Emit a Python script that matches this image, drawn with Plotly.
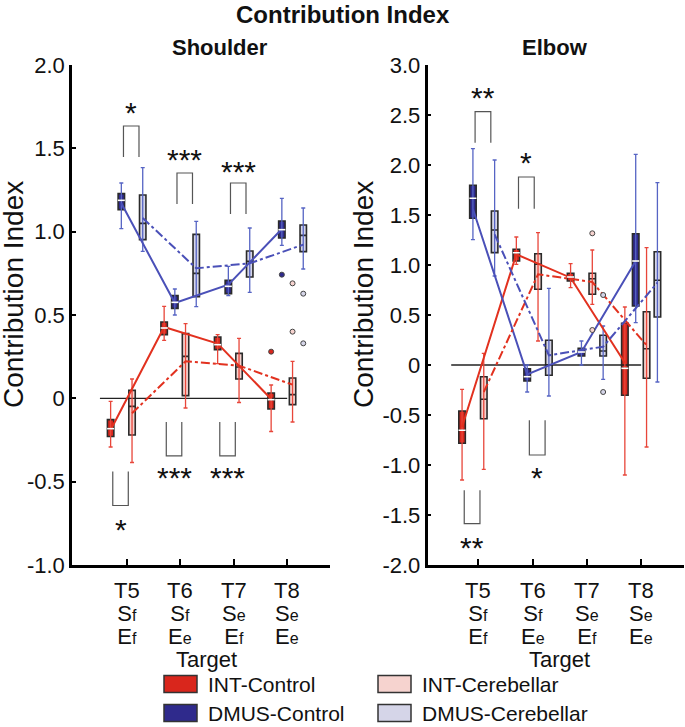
import plotly.graph_objects as go

W, H = 685, 727
FONT = "Liberation Sans, Arial, sans-serif"

# ---- data ----
targets = ['T5', 'T6', 'T7', 'T8']
s_letters = ['f', 'f', 'e', 'e']   # shoulder flexion / extension
e_letters = ['f', 'e', 'f', 'e']   # elbow flexion / extension
groups = ['INT-Control', 'DMUS-Control', 'INT-Cerebellar', 'DMUS-Cerebellar']

# shoulder
sh_int_ctl = dict(lo=[-0.292, 0.348, 0.208, -0.199], q1=[-0.229, 0.382, 0.292, -0.064],
                  med=[-0.182, 0.422, 0.322, -0.008], q3=[-0.128, 0.458, 0.368, 0.032],
                  hi=[-0.018, 0.552, 0.382, 0.080], mean=[-0.19, 0.428, 0.328, -0.004])
sh_dmus_ctl = dict(lo=[1.018, 0.500, 0.616, 0.918], q1=[1.132, 0.540, 0.628, 0.962],
                   med=[1.188, 0.576, 0.672, 1.012], q3=[1.228, 0.616, 0.708, 1.064],
                   hi=[1.292, 0.656, 0.792, 1.200], mean=[1.17, 0.572, 0.682, 1.016])
sh_int_cer = dict(lo=[-0.385, -0.058, -0.025, -0.142], q1=[-0.220, 0.016, 0.116, -0.038],
                  med=[-0.048, 0.252, 0.188, 0.022], q3=[0.048, 0.388, 0.270, 0.122],
                  hi=[0.116, 0.448, 0.360, 0.222], mean=[-0.09, 0.222, 0.196, 0.082])
sh_dmus_cer = dict(lo=[0.882, 0.550, 0.636, 0.776], q1=[0.952, 0.610, 0.728, 0.880],
                   med=[1.050, 0.750, 0.822, 0.978], q3=[1.220, 0.984, 0.884, 1.040],
                   hi=[1.384, 1.062, 1.022, 1.142], mean=[1.082, 0.780, 0.810, 0.922])
# outliers: (target index, value)
sh_outliers = {'INT-Control': [(3, 0.28)], 'DMUS-Control': [(3, 0.742)],
               'INT-Cerebellar': [(3, 0.69), (3, 0.40)], 'DMUS-Cerebellar': [(3, 0.628), (3, 0.33)]}

# elbow
el_int_ctl = dict(lo=[-1.150, 1.007, 0.773, -1.100], q1=[-0.783, 1.040, 0.840, -0.303],
                  med=[-0.653, 1.123, 0.880, -0.033], q3=[-0.460, 1.157, 0.917, 0.417],
                  hi=[-0.243, 1.280, 1.013, 0.580], mean=[-0.62, 1.107, 0.873, 0.023])
el_dmus_ctl = dict(lo=[1.254, -0.270, 0.000, 0.423], q1=[1.467, -0.160, 0.090, 0.590],
                   med=[1.667, -0.117, 0.130, 1.040], q3=[1.797, -0.037, 0.167, 1.313],
                   hi=[2.163, 0.000, 0.240, 2.107], mean=[1.56, -0.093, 0.130, 1.040])
el_int_cer = dict(lo=[-1.043, 0.240, 0.607, -0.820], q1=[-0.537, 0.757, 0.707, -0.133],
                  med=[-0.343, 1.007, 0.863, 0.163], q3=[-0.117, 1.113, 0.917, 0.533],
                  hi=[0.117, 1.323, 1.150, 1.173], mean=[-0.27, 0.907, 0.830, 0.197])
el_dmus_cer = dict(lo=[0.890, -0.310, -0.143, -0.170], q1=[1.124, -0.103, 0.090, 0.480],
                   med=[1.350, 0.000, 0.140, 0.847], q3=[1.540, 0.247, 0.297, 1.133],
                   hi=[2.050, 0.767, 0.390, 1.823], mean=[1.307, 0.097, 0.183, 0.823])
el_outliers = {'INT-Control': [], 'DMUS-Control': [],
               'INT-Cerebellar': [(2, 1.317), (2, 0.35)], 'DMUS-Cerebellar': [(2, 0.70), (2, -0.27)]}

# significance brackets: (target index, pair, bracket end, leg end, stars, star y)
sh_sig = [(0, 'DMUS', 1.634, 1.448, '*', 1.74), (1, 'DMUS', 1.352, 1.166, '***', 1.462),
          (2, 'DMUS', 1.292, 1.106, '***', 1.386), (0, 'INT', -0.643, -0.439, '*', -0.759),
          (1, 'INT', -0.345, -0.142, '***', -0.448), (2, 'INT', -0.345, -0.142, '***', -0.448)]
el_sig = [(0, 'DMUS', 2.533, 2.223, '**', 2.72), (1, 'INT', 1.88, 1.563, '*', 2.07),
          (0, 'INT', -1.586, -1.253, '**', -1.776), (1, 'DMUS', -0.90, -0.553, '*', -1.083)]

# ---- styling ----
offsets = {'INT-Control': -0.3, 'DMUS-Control': -0.1, 'INT-Cerebellar': 0.1, 'DMUS-Cerebellar': 0.3}
fills = {'INT-Control': '#d9261c', 'DMUS-Control': '#2f2a8c',
         'INT-Cerebellar': '#f6d3cf', 'DMUS-Cerebellar': '#d5d5e8'}
line_col = {'INT': '#e2311f', 'DMUS': '#4a50b8'}
whisk_col = {'INT': '#e8463a', 'DMUS': '#5664c4'}
bracket_x = {'INT': (-0.26, 0.03), 'DMUS': (-0.06, 0.23)}
EDGE = '#2a2a2a'


# pixel -> paper fraction
def px(v):
    return v / W


def py(v):
    return 1 - v / H


def ann(**kw):
    d = dict(showarrow=False, xanchor='center', yanchor='middle')
    d.update(kw)
    return d


fig = go.Figure()

panels = [
    ('x', 'y', [sh_int_ctl, sh_dmus_ctl, sh_int_cer, sh_dmus_cer], sh_outliers, sh_sig),
    ('x2', 'y2', [el_int_ctl, el_dmus_ctl, el_int_cer, el_dmus_cer], el_outliers, el_sig),
]

annotations = []

for xa, ya, stats, outl, sig in panels:
    # zero line
    fig.add_trace(go.Scatter(x=[0.5, 4.0], y=[0, 0], mode='lines', line=dict(color='#222', width=1.3),
                             xaxis=xa, yaxis=ya, showlegend=False, hoverinfo='skip'))
    # whiskers
    for g, st in zip(groups, stats):
        kind = g.split('-')[0]
        xs = [i + 1 + offsets[g] for i in range(4)]
        fig.add_trace(go.Scatter(
            x=xs, y=st['med'], mode='markers', marker=dict(size=1, color='rgba(0,0,0,0)'),
            error_y=dict(type='data', symmetric=False,
                         array=[h - m for h, m in zip(st['hi'], st['med'])],
                         arrayminus=[m - lo for m, lo in zip(st['med'], st['lo'])],
                         color=whisk_col[kind], thickness=1.3, width=2),
            xaxis=xa, yaxis=ya, showlegend=False, hoverinfo='skip'))
    # mean lines
    for g, st in zip(groups, stats):
        kind = g.split('-')[0]
        xs = [i + 1 + offsets[g] for i in range(4)]
        fig.add_trace(go.Scatter(
            x=xs, y=st['mean'], mode='lines',
            line=dict(color=line_col[kind], width=2, dash='solid' if 'Control' in g else 'dashdot'),
            xaxis=xa, yaxis=ya, showlegend=False, hoverinfo='skip'))
    # boxes
    for g, st in zip(groups, stats):
        xs = [i + 1 + offsets[g] for i in range(4)]
        fig.add_trace(go.Box(
            x=xs, q1=st['q1'], median=st['med'], q3=st['q3'], lowerfence=st['q1'], upperfence=st['q3'],
            width=0.12, fillcolor=fills[g], line=dict(color=EDGE, width=1.6), whiskerwidth=0,
            boxpoints=False, xaxis=xa, yaxis=ya, showlegend=False, hoverinfo='skip'))
        if 'Control' in g:
            fig.add_trace(go.Scatter(
                x=xs, y=st['med'], mode='markers',
                marker=dict(symbol='line-ew', size=5, line=dict(color='white', width=1.6)),
                xaxis=xa, yaxis=ya, showlegend=False, hoverinfo='skip'))
    # outliers
    for g in groups:
        pts = outl[g]
        if not pts:
            continue
        fig.add_trace(go.Scatter(
            x=[t + 1 + offsets[g] for t, _ in pts], y=[v for _, v in pts], mode='markers',
            marker=dict(symbol='circle', size=5, color=fills[g], line=dict(color='#444', width=1)),
            xaxis=xa, yaxis=ya, showlegend=False, hoverinfo='skip'))
    # significance brackets
    for t, kind, yb, yl, stars, ys in sig:
        x0, x1 = t + 1 + bracket_x[kind][0], t + 1 + bracket_x[kind][1]
        fig.add_trace(go.Scatter(
            x=[x0, x0, x1, x1], y=[yl, yb, yb, yl], mode='lines',
            line=dict(color='#555', width=1.2), xaxis=xa, yaxis=ya, showlegend=False, hoverinfo='skip'))
        annotations.append(ann(x=(x0 + x1) / 2, y=ys, xref=xa, yref=ya, text=stars,
                               yshift=-4.5, font=dict(size=30, color='#111')))
    # x tick labels (three lines, 23 px apart) and axis title
    for i, t in enumerate(targets):
        big = "<span style='font-size:22px'>%s</span>"
        small = "<span style='font-size:16px'>%s</span>"
        txt = (big % t + '<br>' + big % 'S' + small % s_letters[i] + '<br>'
               + big % 'E' + small % e_letters[i])
        annotations.append(ann(x=i + 1, y=py(613), xref=xa, yref='paper', text=txt,
                               font=dict(size=17.7)))
    annotations.append(ann(x=2.5, y=py(659), xref=xa, yref='paper', text='Target', font=dict(size=22)))

# titles
annotations += [
    ann(x=px(343), y=py(15), xref='paper', yref='paper', text='<b>Contribution Index</b>', font=dict(size=24)),
    ann(x=px(220), y=py(48), xref='paper', yref='paper', text='<b>Shoulder</b>', font=dict(size=22)),
    ann(x=px(555), y=py(48), xref='paper', yref='paper', text='<b>Elbow</b>', font=dict(size=22)),
    ann(x=px(13), y=py(295), xref='paper', yref='paper', text='Contribution Index', textangle=-90,
        font=dict(size=28)),
    ann(x=px(363), y=py(295), xref='paper', yref='paper', text='Contribution Index', textangle=-90,
        font=dict(size=28)),
]

# legend drawn by hand (2 x 2)
shapes = []
legend_pos = {'INT-Control': (164, 684), 'INT-Cerebellar': (378, 684),
              'DMUS-Control': (164, 713), 'DMUS-Cerebellar': (378, 713)}
for g in groups:
    lx, ly = legend_pos[g]
    shapes.append(dict(type='rect', xref='paper', yref='paper', x0=px(lx), x1=px(lx + 33),
                       y0=py(ly + 8.5), y1=py(ly - 8.5), fillcolor=fills[g], line=dict(color='#333', width=1.5)))
    annotations.append(ann(x=px(lx + 42), y=py(ly), xref='paper', yref='paper', text=g,
                           xanchor='left', font=dict(size=21)))

ydom = [py(565), py(65)]
yax_common = dict(showgrid=False, zeroline=False, showline=True, linecolor='black', linewidth=2.5,
                  ticks='inside', ticklen=4, tickwidth=1.5, tickcolor='black', automargin=False,
                  tickfont=dict(size=22), domain=ydom, ticklabelstandoff=0)
xax_common = dict(showgrid=False, zeroline=False, showline=True, linecolor='black', linewidth=2.5,
                  ticks='inside', ticklen=6, tickwidth=1.5, tickcolor='black', tickvals=[1, 2, 3, 4],
                  showticklabels=False, automargin=False)

sh_ticks = [-1, -0.5, 0, 0.5, 1, 1.5, 2]
el_ticks = [-2, -1.5, -1, -0.5, 0, 0.5, 1, 1.5, 2, 2.5, 3]


def fmt(v):
    return '0' if v == 0 else f"{v:.1f}"


fig.update_layout(
    template='none',
    width=W, height=H, margin=dict(l=0, r=0, t=0, b=0, pad=0, autoexpand=False),
    paper_bgcolor='white', plot_bgcolor='white',
    font=dict(family=FONT, color='#111'),
    boxmode='overlay', showlegend=False, hovermode=False,
    xaxis=dict(xax_common, domain=[px(72), px(330)], range=[-0.022, 4.80]),
    yaxis=dict(yax_common, range=[-1, 2], tickvals=sh_ticks, ticktext=[fmt(v) for v in sh_ticks], anchor='x'),
    xaxis2=dict(xax_common, domain=[px(427.5), px(684)], range=[0.063, 4.79], anchor='y2'),
    yaxis2=dict(yax_common, range=[-2, 3], tickvals=el_ticks, ticktext=[fmt(v) for v in el_ticks], anchor='x2'),
    annotations=annotations, shapes=shapes,
)

# the page's default body margin would push the figure 8 px in; drop it
fig.write_html("out.html", config={'displayModeBar': False},
               post_script="document.body.style.margin='0';")
